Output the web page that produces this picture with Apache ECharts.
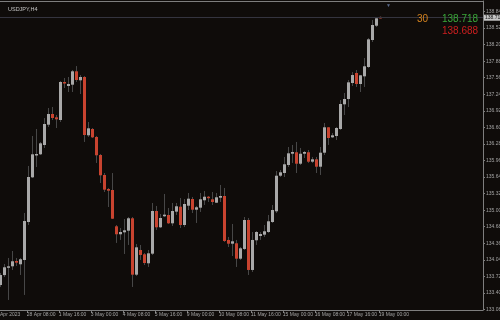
<!DOCTYPE html>
<html>
<head>
<meta charset="utf-8">
<script src="https://cdn.jsdelivr.net/npm/echarts@6/dist/echarts.min.js"></script>
<style>
html,body{margin:0;padding:0;background:#0f0c0a;}
#chart{width:500px;height:320px;}
</style>
</head>
<body>
<div id="chart"></div>
<script>
// USDJPY H4 bars, 27 Apr 2023 08:00 .. 19 May 2023 04:00 (96 bars)
const openP = [
133.554,133.745,133.888,133.915,134.018,133.954,134.037,134.771,135.635,136.066,
136.080,136.260,136.652,136.859,136.795,136.743,137.477,137.400,137.425,137.684,
137.510,137.574,136.447,136.569,136.414,136.066,135.680,135.409,135.390,134.688,
134.534,134.572,134.603,134.843,133.753,134.230,134.147,133.973,134.159,134.984,
134.669,134.882,134.907,134.746,134.971,135.067,134.713,135.086,135.216,135.009,
135.048,135.191,135.260,135.210,135.144,135.241,135.274,134.424,134.352,134.360,
134.062,134.250,134.810,133.844,134.418,134.501,134.526,134.578,134.771,134.978,
135.666,135.718,135.873,136.091,136.119,135.898,136.091,136.119,135.937,135.983,
135.840,136.111,136.602,136.408,136.434,136.569,137.046,137.149,137.458,137.651,
137.439,137.587,137.767,138.289,138.565,138.735];
const closeP = [
133.747,133.896,133.915,134.012,133.985,134.051,134.791,135.641,136.080,136.086,
136.292,136.665,136.859,136.781,136.756,137.477,137.452,137.439,137.684,137.516,
137.574,136.453,136.582,136.408,136.061,135.674,135.396,135.376,134.835,134.534,
134.578,134.611,134.843,133.753,134.282,134.134,133.979,134.166,134.984,134.669,
134.849,134.913,134.746,134.984,135.075,134.713,135.119,135.222,135.009,135.056,
135.210,135.260,135.235,135.158,135.249,135.274,134.404,134.352,134.398,134.062,
134.263,134.810,133.844,134.424,134.578,134.539,134.592,134.785,135.003,135.666,
135.732,135.887,136.099,136.124,135.898,136.091,136.124,135.937,135.983,135.840,
136.111,136.602,136.395,136.447,136.588,137.052,137.149,137.471,137.612,137.439,
137.607,137.781,138.302,138.579,138.708,138.718];
const highP = [
133.786,133.960,134.076,134.211,134.076,134.076,134.945,135.854,136.434,136.569,
136.318,136.781,136.975,136.994,136.839,137.497,137.555,137.574,137.709,137.786,
137.612,137.593,136.704,136.588,136.434,136.086,135.718,135.429,135.718,134.713,
134.655,134.829,134.868,134.868,134.346,134.327,134.172,134.230,135.139,135.081,
134.926,135.313,135.042,135.139,135.139,135.235,135.216,135.332,135.255,135.081,
135.332,135.371,135.274,135.351,135.332,135.487,135.429,134.482,134.733,134.424,
134.288,134.868,134.849,134.578,134.597,134.578,134.713,134.907,135.100,135.757,
135.776,136.028,136.221,136.260,136.318,136.202,136.144,136.163,136.028,136.028,
136.221,136.685,136.607,136.492,136.607,137.129,137.265,137.516,137.670,137.709,
137.612,137.941,138.328,138.675,138.733,138.745];
const lowP = [
133.515,133.708,133.264,133.844,133.921,133.747,133.361,134.713,135.622,135.834,
136.066,136.202,136.607,136.743,136.588,136.704,137.361,137.284,137.284,137.477,
137.245,136.318,136.414,136.395,135.912,135.525,135.351,135.061,134.829,134.366,
134.424,134.153,134.327,133.515,133.728,134.037,133.940,133.902,134.134,134.617,
134.655,134.868,134.733,134.694,134.907,134.655,134.675,135.003,134.945,134.752,
134.965,135.100,135.158,135.100,135.139,135.158,134.385,134.288,134.114,133.902,
134.037,134.230,133.747,133.805,134.327,134.424,134.482,134.559,134.752,134.945,
135.641,135.641,135.834,135.912,135.718,135.873,136.008,135.912,135.912,135.718,
135.680,136.066,136.260,136.395,136.356,136.549,136.839,136.994,137.400,137.381,
137.284,137.381,137.748,138.250,138.540,138.705];

// time-scale labels: bar index where each label sits
const tickBars = [0, 6, 14, 22, 30, 38, 46, 54, 62, 70, 78, 86, 94];
const tickLabels = ['Apr 2023','28 Apr 08:00','1 May 16:00','3 May 00:00','4 May 08:00','5 May 16:00',
  '9 May 00:00','10 May 08:00','11 May 16:00','15 May 00:00','16 May 08:00','17 May 16:00','19 May 00:00'];
// price-scale labels
const priceTicks = [133.08,133.40,133.72,134.04,134.36,134.68,135.00,135.32,135.64,135.96,
  136.28,136.60,136.92,137.24,137.56,137.88,138.20,138.52,138.84];

const symbolName = 'USDJPY,H4';
const spreadText = '30';
const askText = '138.718';
const bidText = '138.688';
const lastPrice = 138.718;

const X_MIN = 0.04, X_MAX = 120.79;
const Y_MIN = 133.0703, Y_MAX = 139.043;

const rows = openP.map((o, i) => [i, o, closeP[i], lowP[i], highP[i]]);

const tickVals = tickBars.map((b, i) => i === 0 ? X_MIN + 0.01 : b + 0.75);
const labelMap = {};
tickVals.forEach((v, i) => { labelMap[v.toFixed(3)] = tickLabels[i]; });

const UP = '#a9a9a9', DOWN = '#c8432f', WICK = '#474747';
const FRAME = '#7e7e7e', TXT = '#a4a4a4';
const FONT = 'Liberation Sans, Arial, sans-serif';

const chart = echarts.init(document.getElementById('chart'), null, {renderer: 'canvas'});
chart.setOption({
  backgroundColor: '#0f0c0a',
  animation: false,
  title: [
    {text: symbolName, left: 3, top: 1, textStyle: {color: '#c4c4c4', fontSize: 5.5, fontWeight: 'normal', fontFamily: FONT}},
    {text: spreadText, left: 412, top: 9.5, textStyle: {color: '#d4821e', fontSize: 10, fontWeight: 'normal', fontFamily: FONT}},
    {text: askText, left: 437, top: 9.5, textStyle: {color: '#3aa83a', fontSize: 10, fontWeight: 'normal', fontFamily: FONT}},
    {text: bidText, left: 437, top: 21, textStyle: {color: '#cc1f1f', fontSize: 10, fontWeight: 'normal', fontFamily: FONT}},
    {text: '▼', left: 381, top: -2, textStyle: {color: '#5a6a8c', fontSize: 5, fontWeight: 'normal'}}
  ],
  grid: {left: 0, right: 17, top: 1, bottom: 10, containLabel: false, outerBoundsMode: 'none'},
  xAxis: [{
    type: 'value', min: X_MIN, max: X_MAX,
    axisLine: {show: true, lineStyle: {color: FRAME, width: 1}},
    axisTick: {show: true, customValues: tickVals.slice(1), length: 3, lineStyle: {color: FRAME}},
    axisLabel: {
      show: true, customValues: tickVals, align: 'left', margin: 2,
      color: TXT, fontSize: 5, fontFamily: FONT,
      formatter: v => labelMap[Number(v).toFixed(3)] || ''
    },
    splitLine: {show: false}
  }, {
    type: 'value', min: X_MIN, max: X_MAX, position: 'top',
    axisLine: {show: true, lineStyle: {color: FRAME, width: 1}},
    axisTick: {show: false}, axisLabel: {show: false}, splitLine: {show: false}
  }],
  yAxis: {
    type: 'value', position: 'right', min: Y_MIN, max: Y_MAX,
    axisLine: {show: true, lineStyle: {color: FRAME, width: 1}},
    axisTick: {show: true, customValues: priceTicks, length: 2, lineStyle: {color: FRAME}},
    axisLabel: {
      show: true, customValues: priceTicks, margin: 3, color: TXT, fontSize: 5, fontFamily: FONT,
      showMinLabel: true, hideOverlap: false,
      formatter: v => Number(v).toFixed(2)
    },
    splitLine: {show: false}
  },
  series: [{
    type: 'custom',
    clip: true,
    data: rows,
    encode: {x: 0, y: [1, 2, 3, 4]},
    renderItem: function (params, api) {
      const j = api.value(0), o = api.value(1), c = api.value(2), l = api.value(3), h = api.value(4);
      const pO = api.coord([j, o]), pC = api.coord([j, c]);
      const pL = api.coord([j, l]), pH = api.coord([j, h]);
      const xc = Math.round(pO[0]);
      const top = Math.min(pO[1], pC[1]), bot = Math.max(pO[1], pC[1]);
      const up = c >= o;
      return {
        type: 'group',
        children: [
          {type: 'line', shape: {x1: xc + 0.5, y1: pH[1], x2: xc + 0.5, y2: pL[1]},
           style: {stroke: WICK, lineWidth: 1}},
          {type: 'rect', shape: {x: xc - 1, y: top, width: 3, height: Math.max(bot - top, 1.5)},
           style: {fill: up ? UP : DOWN}}
        ]
      };
    },
    markLine: {
      silent: true, symbol: 'none', animation: false,
      lineStyle: {color: '#34343f', width: 1, type: 'solid'},
      label: {
        show: true, position: 'end', distance: 1,
        formatter: askText, color: '#111', backgroundColor: '#c6c6c6',
        fontSize: 5, fontFamily: FONT, padding: [1, 1, 0, 1]
      },
      data: [{yAxis: lastPrice}]
    }
  }]
});
</script>
</body>
</html>
